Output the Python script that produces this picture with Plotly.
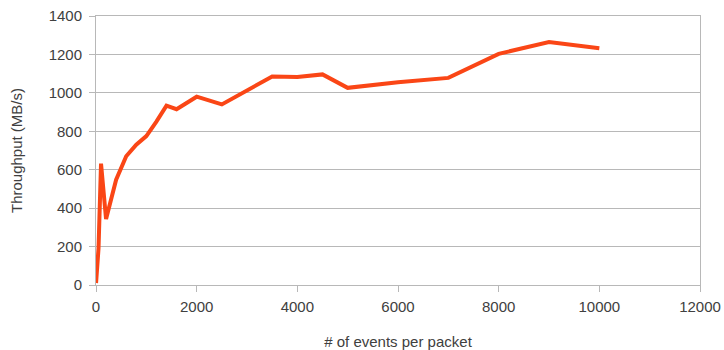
import plotly.graph_objects as go

# Packet size (events per packet) vs. measured throughput
events_per_packet = [1, 50, 100, 200, 400, 600, 800, 1000, 1200, 1400, 1600,
                     2000, 2500, 3000, 3500, 4000, 4500, 5000, 6000, 7000,
                     8000, 9000, 10000]
throughput_mbs = [10, 190, 632, 343, 548, 670, 730, 775, 850, 933, 915,
                  980, 940, 1015, 1085, 1082, 1096, 1026, 1055, 1078,
                  1203, 1264, 1232]

x_ticks = [0, 2000, 4000, 6000, 8000, 10000, 12000]
y_ticks = [0, 200, 400, 600, 800, 1000, 1200, 1400]

font_family = "Liberation Sans, Arial, sans-serif"
text_color = "#404040"
grid_color = "#b8b8b8"

fig = go.Figure()
fig.add_trace(go.Scatter(
    x=events_per_packet,
    y=throughput_mbs,
    mode="lines",
    line=dict(color="#fa4616", width=4),
    showlegend=False,
    hoverinfo="x+y",
))

fig.update_layout(
    width=724,
    height=350,
    margin=dict(l=96, r=24, t=16, b=65),
    paper_bgcolor="white",
    plot_bgcolor="white",
    font=dict(family=font_family, size=15, color=text_color),
    xaxis=dict(
        range=[0, 12000],
        tickvals=x_ticks,
        ticktext=[str(v) for v in x_ticks],
        showgrid=False,
        zeroline=False,
        showline=True,
        linecolor=grid_color,
        linewidth=1,
        mirror=True,
        ticks="outside",
        ticklen=6,
        tickcolor=grid_color,
        tickfont=dict(size=15),
        ticklabelstandoff=2,
        automargin=False,
        title=dict(text="# of events per packet", standoff=22,
                   font=dict(size=15, color=text_color)),
    ),
    yaxis=dict(
        range=[0, 1400],
        tickvals=y_ticks,
        ticktext=[str(v) for v in y_ticks],
        showgrid=True,
        gridcolor=grid_color,
        gridwidth=1,
        zeroline=False,
        showline=True,
        linecolor=grid_color,
        linewidth=1,
        mirror=True,
        ticks="outside",
        ticklen=6,
        tickcolor=grid_color,
        tickfont=dict(size=15),
        ticklabelstandoff=4,
        automargin=False,
        title=dict(text="Throughput (MB/s)", standoff=22,
                   font=dict(size=15, color=text_color)),
    ),
)

fig.write_html("out.html")
